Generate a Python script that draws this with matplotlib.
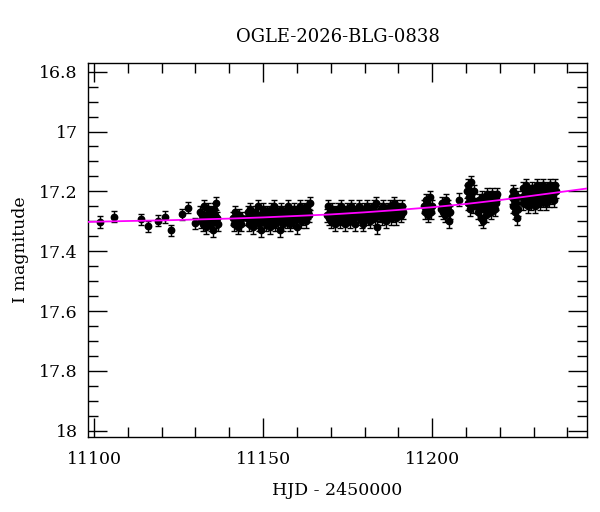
import matplotlib
matplotlib.use("Agg")
import matplotlib.pyplot as plt
from matplotlib.ticker import MultipleLocator
import numpy as np

# ---------------- data ----------------
early_t = [11101.9, 11105.8, 11114.0, 11116.0, 11118.9, 11120.9, 11122.9, 11125.9, 11127.8, 11129.8]
early_m = [17.302, 17.285, 17.293, 17.317, 17.298, 17.286, 17.330, 17.277, 17.254, 17.307]

a_t = [11131.3, 11131.5, 11131.8, 11132.1, 11132.4, 11132.7, 11133.0, 11133.3, 11133.6, 11133.9,
       11134.2, 11134.5, 11134.8, 11135.1, 11135.4, 11135.7, 11136.0, 11136.2, 11136.4, 11136.6]
a_m = [17.27, 17.30, 17.28, 17.31, 17.25, 17.29, 17.32, 17.28, 17.26, 17.30,
       17.27, 17.31, 17.29, 17.33, 17.26, 17.28, 17.30, 17.24, 17.29, 17.31]

b_t = [11141.0, 11141.4, 11141.8, 11142.2, 11142.6, 11143.0, 11143.4, 11143.7]
b_m = [17.29, 17.31, 17.27, 17.30, 17.32, 17.28, 17.31, 17.29]

c_t = [11145.2, 11145.5, 11145.8, 11146.1, 11146.4, 11146.8, 11147.1, 11147.4, 11147.7, 11148.0,
       11148.4, 11148.7, 11149.0, 11149.3, 11149.6, 11150.0, 11150.3, 11150.6, 11150.9, 11151.2,
       11151.6, 11151.9, 11152.2, 11152.5, 11152.8, 11153.2, 11153.5, 11153.8, 11154.1, 11154.4,
       11154.8, 11155.1, 11155.4, 11155.7, 11156.0, 11156.4, 11156.7, 11157.0, 11157.3, 11157.6,
       11158.0, 11158.3, 11158.6, 11158.9, 11159.2, 11159.6, 11159.9, 11160.2, 11160.5, 11160.8,
       11161.2, 11161.5, 11161.8, 11162.1, 11162.4, 11162.8, 11163.1, 11163.4, 11163.7, 11163.9]
c_m = [17.29, 17.27, 17.31, 17.26, 17.30, 17.28, 17.32, 17.29, 17.27, 17.30,
       17.25, 17.31, 17.28, 17.33, 17.29, 17.26, 17.30, 17.28, 17.31, 17.27,
       17.29, 17.32, 17.26, 17.30, 17.28, 17.25, 17.31, 17.29, 17.27, 17.30,
       17.28, 17.33, 17.26, 17.29, 17.31, 17.27, 17.28, 17.30, 17.25, 17.29,
       17.31, 17.27, 17.28, 17.30, 17.26, 17.29, 17.32, 17.27, 17.28, 17.25,
       17.30, 17.27, 17.29, 17.26, 17.28, 17.30, 17.25, 17.27, 17.28, 17.24]

d_t = [11168.9, 11169.2, 11169.5, 11169.9, 11170.2, 11170.5, 11170.8, 11171.2, 11171.5, 11171.8,
       11172.1, 11172.5, 11172.8, 11173.1, 11173.4, 11173.8, 11174.1, 11174.4, 11174.7, 11175.1,
       11175.4, 11175.7, 11176.0, 11176.4, 11176.7, 11177.0, 11177.3, 11177.7, 11178.0, 11178.3,
       11178.6, 11179.0, 11179.3, 11179.6, 11179.9, 11180.3, 11180.6, 11180.9, 11181.2, 11181.6,
       11181.9, 11182.2, 11182.5, 11182.9, 11183.2, 11183.5, 11183.8, 11184.2, 11184.5, 11184.8,
       11185.1, 11185.5, 11185.8, 11186.1, 11186.4, 11186.8, 11187.1, 11187.4, 11187.7, 11188.1,
       11188.4, 11188.7, 11189.0, 11189.4, 11189.7, 11190.0, 11190.3, 11190.7, 11191.0, 11191.4]
d_m = [17.28, 17.25, 17.29, 17.27, 17.30, 17.26, 17.28, 17.31, 17.27, 17.29,
       17.26, 17.28, 17.30, 17.25, 17.29, 17.27, 17.31, 17.28, 17.26, 17.29,
       17.27, 17.30, 17.25, 17.28, 17.26, 17.29, 17.31, 17.27, 17.28, 17.25,
       17.29, 17.27, 17.30, 17.31, 17.26, 17.28, 17.25, 17.29, 17.27, 17.30,
       17.26, 17.28, 17.27, 17.25, 17.29, 17.24, 17.32, 17.27, 17.28, 17.26,
       17.29, 17.25, 17.27, 17.28, 17.30, 17.26, 17.27, 17.25, 17.29, 17.26,
       17.28, 17.24, 17.27, 17.29, 17.25, 17.27, 17.26, 17.28, 17.25, 17.27]

e_t = [11197.6, 11197.9, 11198.1, 11198.4, 11198.6, 11198.9, 11199.1, 11199.4, 11199.7, 11200.0]
e_m = [17.25, 17.27, 17.23, 17.26, 17.24, 17.28, 17.25, 17.22, 17.27, 17.25]

f_t = [11202.6, 11202.9, 11203.2, 11203.5, 11203.8, 11204.1, 11204.4, 11204.8, 11205.1, 11205.4, 11207.9]
f_m = [17.26, 17.24, 17.27, 17.25, 17.28, 17.23, 17.26, 17.25, 17.30, 17.27, 17.228]

g_t = [11210.3, 11210.5, 11210.7, 11211.0, 11211.2, 11211.4, 11211.6, 11211.9, 11212.1, 11212.4]
g_m = [17.20, 17.24, 17.18, 17.22, 17.26, 17.21, 17.17, 17.23, 17.25, 17.20]

h_t = [11213.3, 11213.5, 11213.8, 11214.0, 11214.3, 11214.5, 11214.8, 11215.0, 11215.3, 11215.5,
       11215.8, 11216.0, 11216.3, 11216.5, 11216.8, 11217.0, 11217.3, 11217.5, 11217.8, 11218.0,
       11218.3, 11218.5, 11218.8, 11219.0, 11219.2]
h_m = [17.25, 17.27, 17.23, 17.26, 17.29, 17.24, 17.22, 17.30, 17.26, 17.23,
       17.28, 17.24, 17.21, 17.26, 17.25, 17.22, 17.27, 17.24, 17.21, 17.25,
       17.23, 17.26, 17.22, 17.24, 17.21]

i_t = [11223.6, 11223.8, 11224.0, 11224.2, 11224.4, 11224.6, 11224.8, 11225.0, 11225.2, 11225.5]
i_m = [17.22, 17.25, 17.20, 17.23, 17.27, 17.21, 17.24, 17.29, 17.22, 17.26]

j_t = [11226.5, 11226.8, 11227.0, 11227.3, 11227.5, 11227.8, 11228.1, 11228.3, 11228.6, 11228.8,
       11229.1, 11229.3, 11229.6, 11229.9, 11230.1, 11230.4, 11230.6, 11230.9, 11231.1, 11231.4,
       11231.7, 11231.9, 11232.2, 11232.4, 11232.7, 11232.9, 11233.2, 11233.5, 11233.7, 11234.0,
       11234.2, 11234.5, 11234.7, 11235.0, 11235.3, 11235.5, 11235.8, 11236.0, 11236.3, 11236.7]
j_m = [17.22, 17.19, 17.24, 17.21, 17.23, 17.18, 17.22, 17.25, 17.20, 17.23,
       17.21, 17.24, 17.19, 17.22, 17.20, 17.25, 17.21, 17.18, 17.23, 17.20,
       17.22, 17.24, 17.19, 17.21, 17.23, 17.18, 17.22, 17.20, 17.24, 17.19,
       17.21, 17.23, 17.18, 17.20, 17.22, 17.19, 17.21, 17.23, 17.18, 17.20]

# typical photometric error of each season chunk (mag)
seg_err = [0.019, 0.022, 0.022, 0.022, 0.022, 0.022, 0.022, 0.022, 0.022, 0.022, 0.021]

# model light curve
model_t = [11098, 11110, 11120, 11130, 11140, 11150, 11160, 11170, 11180,
           11190, 11200, 11210, 11220, 11230, 11240, 11246]
model_m = [17.302, 17.299, 17.297, 17.294, 17.291, 17.287, 17.282, 17.277, 17.270,
           17.262, 17.253, 17.242, 17.229, 17.214, 17.199, 17.190]

title = "OGLE-2026-BLG-0838"
xlabel = "HJD - 2450000"
ylabel = "I magnitude"

segments = [(early_t, early_m), (a_t, a_m), (b_t, b_m), (c_t, c_m), (d_t, d_m),
            (e_t, e_m), (f_t, f_m), (g_t, g_m), (h_t, h_m), (i_t, i_m), (j_t, j_m)]

# ---------------- plot ----------------
plt.rcParams['font.family'] = ['DejaVu Serif']
fig = plt.figure(figsize=(6.0, 5.12), dpi=100)
ax = fig.add_axes([0.146, 0.147, 0.833, 0.7305])

for (t, m), err in zip(segments, seg_err):
    ax.errorbar(t, m, yerr=err, fmt='o', color='black', ms=4.6, elinewidth=1.0,
                capsize=2.3, capthick=1.0, zorder=2)

ax.plot(model_t, model_m, color='#ff00ff', lw=1.3, zorder=3)

ax.set_xlim(11098.1, 11245.9)
ax.set_ylim(18.02, 16.77)
ax.xaxis.set_major_locator(MultipleLocator(50))
ax.xaxis.set_minor_locator(MultipleLocator(10))
ax.yaxis.set_major_locator(MultipleLocator(0.2))
ax.yaxis.set_minor_locator(MultipleLocator(0.05))
ax.yaxis.set_major_formatter(plt.FuncFormatter(lambda v, p: f"{v:g}"))

ax.tick_params(which='both', direction='in', top=True, right=True, width=1.0, colors='black')
ax.tick_params(which='major', length=14, labelsize=12.5)
ax.tick_params(axis='y', which='major', pad=7)
ax.tick_params(axis='x', which='major', pad=10)
ax.tick_params(which='minor', length=7)
for s in ax.spines.values():
    s.set_linewidth(1.0)

ax.set_title(title, fontsize=13, pad=15)
ax.set_xlabel(xlabel, fontsize=12.5, labelpad=10)
ax.set_ylabel(ylabel, fontsize=12.5, labelpad=7)

fig.savefig("out.png", dpi=100)
